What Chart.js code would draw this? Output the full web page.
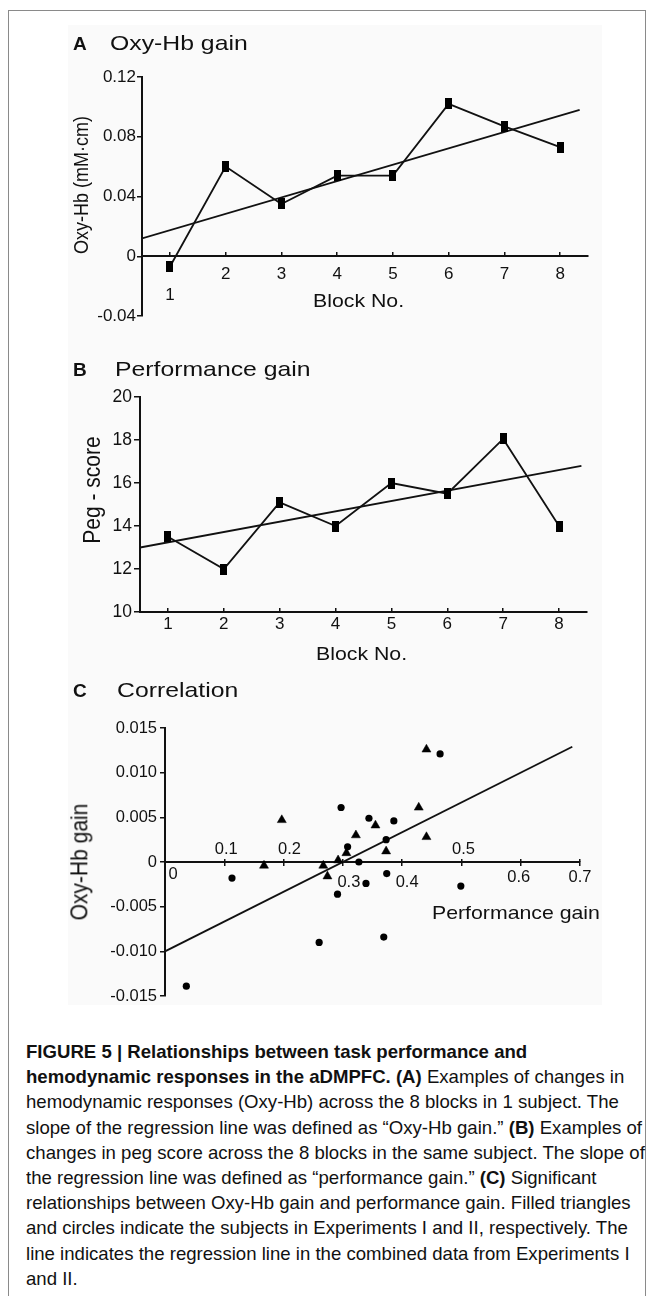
<!DOCTYPE html>
<html>
<head>
<meta charset="utf-8">
<script src="https://cdn.jsdelivr.net/npm/chart.js@4.4.1/dist/chart.umd.min.js"></script>
<style>
  body { margin: 0; width: 653px; height: 1296px; position: relative; overflow: hidden; background: #fff;
         font-family: 'Liberation Sans', Arial, sans-serif; color: #111; }
  #moldura { position: absolute; left: 8px; top: 10px; width: 636px; height: 1300px; border: 1.5px solid #8a8a8a; }
  #fundo { position: absolute; left: 68px; top: 25px; width: 534px; height: 980px; background: #fafafa; }
  canvas { position: absolute; left: 0; }
  .txt { position: absolute; white-space: nowrap; line-height: 1; transform-origin: 0 50%; }
  .tit { font-size: 21px; transform: scaleX(1.18); }
  .rot { position: absolute; white-space: nowrap; line-height: 1; transform: translate(-50%, -50%) rotate(-90deg) scaleY(1.1); }
  .leg { position: absolute; left: 26px; white-space: nowrap; font-size: 19px; line-height: 25.2px; transform-origin: 0 50%; }
</style>
</head>
<body>
<div id="moldura"></div>
<div id="fundo"></div>

<canvas id="graficoA" width="653" height="330" style="top:0"></canvas>
<canvas id="graficoB" width="653" height="330" style="top:330px"></canvas>
<canvas id="graficoC" width="653" height="350" style="top:660px"></canvas>

<!-- títulos dos painéis -->
<div class="txt" style="left:73px;top:34px;font-size:19px;font-weight:bold">A</div>
<div class="txt tit" style="left:110px;top:32px">Oxy-Hb gain</div>
<div class="txt" style="left:73px;top:360px;font-size:19px;font-weight:bold">B</div>
<div class="txt tit" style="left:115px;top:358px">Performance gain</div>
<div class="txt" style="left:73px;top:681px;font-size:19px;font-weight:bold">C</div>
<div class="txt tit" style="left:117px;top:679px">Correlation</div>

<!-- títulos dos eixos -->
<div class="txt" style="left:313px;top:291px;font-size:19px;transform:scaleX(1.12)">Block No.</div>
<div class="rot" style="left:81px;top:185px;font-size:18px">Oxy-Hb (mM·cm)</div>
<div class="txt" style="left:316px;top:644px;font-size:19px;transform:scaleX(1.12)">Block No.</div>
<div class="rot" style="left:92px;top:490px;font-size:21px">Peg - score</div>
<div class="txt" style="left:432px;top:904px;font-size:18.5px;transform:scaleX(1.15)">Performance gain</div>
<div class="rot" style="left:79px;top:862px;font-size:21px">Oxy-Hb gain</div>

<!-- legenda da figura -->
<div id="legenda" style="position:absolute;left:0;top:1039px">
  <div class="leg"><b>FIGURE 5 | Relationships between task performance and</b></div>
  <div class="leg"><b>hemodynamic responses in the aDMPFC. (A)</b> Examples of changes in</div>
  <div class="leg">hemodynamic responses (Oxy-Hb) across the 8 blocks in 1 subject. The</div>
  <div class="leg">slope of the regression line was defined as “Oxy-Hb gain.” <b>(B)</b> Examples of</div>
  <div class="leg">changes in peg score across the 8 blocks in the same subject. The slope of</div>
  <div class="leg">the regression line was defined as “performance gain.” <b>(C)</b> Significant</div>
  <div class="leg">relationships between Oxy-Hb gain and performance gain. Filled triangles</div>
  <div class="leg">and circles indicate the subjects in Experiments I and II, respectively. The</div>
  <div class="leg">line indicates the regression line in the combined data from Experiments I</div>
  <div class="leg">and II.</div>
</div>

<script>
// ---- dados do painel A (Oxy-Hb por bloco) ----
const blocos = [1, 2, 3, 4, 5, 6, 7, 8];
const oxyHb = [-0.007, 0.060, 0.035, 0.054, 0.054, 0.102, 0.087, 0.073];
const oxyHbRegX = [0.5, 8.35];
const oxyHbRegY = [0.012, 0.098];
const oxyHbTicks = [-0.04, 0, 0.04, 0.08, 0.12];

// ---- dados do painel B (peg score por bloco) ----
const pegScore = [13.5, 12.0, 15.1, 14.0, 16.0, 15.5, 18.05, 14.0];
const pegRegX = [0.5, 8.4];
const pegRegY = [13.0, 16.8];
const pegTicks = [10, 12, 14, 16, 18, 20];

// ---- dados do painel C (correlação) ----
// Experimento I (triângulos)
const exp1Ganho = [0.167, 0.197, 0.267, 0.274, 0.292, 0.306, 0.322, 0.355, 0.373, 0.428, 0.441, 0.441];
const exp1Oxy = [-0.0004, 0.0047, -0.0004, -0.0016, 0.0002, 0.0010, 0.0030, 0.0041, 0.0012, 0.0061, 0.0126, 0.0028];
// Experimento II (círculos)
const exp2Ganho = [0.036, 0.113, 0.260, 0.291, 0.297, 0.308, 0.327, 0.339, 0.344, 0.369, 0.373, 0.374, 0.386, 0.464, 0.499];
const exp2Oxy = [-0.0139, -0.0018, -0.0090, -0.0036, 0.0061, 0.0017, 0.0000, -0.0024, 0.0049, -0.0084, 0.0025, -0.0013, 0.0046, 0.0121, -0.0027];
const corrRegX = [0, 0.687];
const corrRegY = [-0.0100, 0.0129];
const corrXTicks = [0, 0.1, 0.2, 0.3, 0.4, 0.5, 0.6, 0.7];
const corrXLabels = ['0', '0.1', '0.2', '0.3', '0.4', '0.5', '0.6', '0.7'];
const corrYTicks = [-0.015, -0.010, -0.005, 0, 0.005, 0.010, 0.015];

Chart.defaults.font.family = "'Liberation Sans', Arial, sans-serif";
Chart.defaults.color = '#111';

const preto = '#111';

// marcador retangular (mais alto que largo)
function marcadorRet(w, h) {
    const c = document.createElement('canvas');
    c.width = w; c.height = h;
    const g = c.getContext('2d');
    g.fillStyle = '#000';
    g.fillRect(0, 0, w, h);
    return c;
}
const ret = marcadorRet(7, 11);

const pontos = (xs, ys) => xs.map((x, i) => ({ x: x, y: ys[i] }));
const fixaTicks = lista => scale => { scale.ticks = lista.map(v => ({ value: v })); };
const semNada = { legend: { display: false }, tooltip: { enabled: false } };

// Painel A
new Chart(document.getElementById('graficoA'), {
    type: 'line',
    data: {
        datasets: [
            { data: pontos(blocos, oxyHb), borderColor: preto, borderWidth: 1.8, pointStyle: ret, pointRadius: 5, tension: 0 },
            { data: pontos(oxyHbRegX, oxyHbRegY), borderColor: preto, borderWidth: 1.8, pointRadius: 0 }
        ]
    },
    options: {
        responsive: false, animation: false,
        layout: { padding: { top: 77, bottom: 14, left: 0, right: 65 } },
        plugins: semNada,
        scales: {
            x: {
                type: 'linear', min: 0.5, max: 8.5, position: { y: 0 },
                afterBuildTicks: fixaTicks(blocos),
                grid: { drawOnChartArea: false, tickLength: -5, color: preto, lineWidth: 1.5 },
                border: { color: preto, width: 2 },
                ticks: { padding: 13, font: { size: 17 }, autoSkip: false, maxRotation: 0,
                         callback: v => v === 1 ? ['', '1'] : String(v) }
            },
            y: {
                min: -0.04, max: 0.12,
                afterBuildTicks: fixaTicks(oxyHbTicks),
                afterFit: s => { s.width = 142; },
                grid: { drawOnChartArea: false, tickLength: 5, color: preto, lineWidth: 1.5 },
                border: { color: preto, width: 2 },
                ticks: { padding: 1, font: { size: 17 },
                         callback: v => Math.abs(v) < 1e-9 ? '0' : v.toFixed(2) }
            }
        }
    }
});

// Painel B
new Chart(document.getElementById('graficoB'), {
    type: 'line',
    data: {
        datasets: [
            { data: pontos(blocos, pegScore), borderColor: preto, borderWidth: 1.8, pointStyle: ret, pointRadius: 5, tension: 0 },
            { data: pontos(pegRegX, pegRegY), borderColor: preto, borderWidth: 1.8, pointRadius: 0 }
        ]
    },
    options: {
        responsive: false, animation: false,
        layout: { padding: { top: 67, bottom: 48, left: 0, right: 66 } },
        plugins: semNada,
        scales: {
            x: {
                type: 'linear', min: 0.5, max: 8.5, position: { y: 10 },
                afterBuildTicks: fixaTicks(blocos),
                grid: { drawOnChartArea: false, tickLength: -5, color: preto, lineWidth: 1.5 },
                border: { color: preto, width: 2 },
                ticks: { padding: 7, font: { size: 17 }, autoSkip: false, maxRotation: 0 }
            },
            y: {
                min: 10, max: 20,
                afterBuildTicks: fixaTicks(pegTicks),
                afterFit: s => { s.width = 140; },
                grid: { drawOnChartArea: false, tickLength: 6, color: preto, lineWidth: 1.5 },
                border: { color: preto, width: 2 },
                ticks: { padding: 2, font: { size: 17.5 } }
            }
        }
    }
});

// rótulos do eixo x do painel C (alguns acima, outros abaixo do eixo)
const rotulosC = {
    id: 'rotulosC',
    afterDraw(chart, args, opts) {
        const sx = chart.scales.x, sy = chart.scales.y;
        const ctx = chart.ctx;
        ctx.save();
        ctx.font = "16.5px 'Liberation Sans', Arial, sans-serif";
        ctx.fillStyle = preto;
        ctx.textAlign = 'center';
        ctx.textBaseline = 'middle';
        corrXTicks.forEach((v, i) => {
            const d = opts.desloc[i];
            ctx.fillText(corrXLabels[i], sx.getPixelForValue(v) + d[0], sy.getPixelForValue(0) + d[1]);
        });
        ctx.restore();
    }
};

// Painel C
new Chart(document.getElementById('graficoC'), {
    type: 'scatter',
    data: {
        datasets: [
            { data: pontos(exp1Ganho, exp1Oxy), pointStyle: 'triangle', pointRadius: 5.2, backgroundColor: '#000', borderColor: '#000', borderWidth: 0.5 },
            { data: pontos(exp2Ganho, exp2Oxy), pointStyle: 'circle', pointRadius: 3.6, backgroundColor: '#000', borderColor: '#000', borderWidth: 0 },
            { data: pontos(corrRegX, corrRegY), showLine: true, borderColor: preto, borderWidth: 1.8, pointRadius: 0 }
        ]
    },
    plugins: [rotulosC],
    options: {
        responsive: false, animation: false,
        layout: { padding: { top: 68, bottom: 14, left: 0, right: 73 } },
        plugins: {
            legend: { display: false }, tooltip: { enabled: false },
            rotulosC: { desloc: [[8, 12], [2, -13], [6, -13], [6, 20], [5, 20], [2, -13], [-2, 15], [0, 15]] }
        },
        scales: {
            x: {
                type: 'linear', min: 0, max: 0.7, position: { y: 0 },
                afterBuildTicks: fixaTicks(corrXTicks),
                grid: { drawOnChartArea: false, tickLength: 3, color: preto, lineWidth: 1.5 },
                border: { color: preto, width: 2 },
                ticks: { display: false }
            },
            x2: {
                type: 'linear', min: 0, max: 0.7, position: { y: 0 },
                afterBuildTicks: fixaTicks(corrXTicks),
                grid: { drawOnChartArea: false, tickLength: -3, color: preto, lineWidth: 1.5 },
                border: { display: false },
                ticks: { display: false }
            },
            y: {
                min: -0.015, max: 0.015,
                afterBuildTicks: fixaTicks(corrYTicks),
                afterFit: s => { s.width = 165; },
                grid: { drawOnChartArea: false, tickLength: 5, color: preto, lineWidth: 1.5 },
                border: { color: preto, width: 2 },
                ticks: { padding: 3, font: { size: 16.5 },
                         callback: v => Math.abs(v) < 1e-9 ? '0' : v.toFixed(3) }
            }
        }
    }
});

// ajusta a largura de cada linha da legenda (fonte condensada no original)
const linhas = document.querySelectorAll('.leg');
const larguraRef = linhas[3].getBoundingClientRect().width;
const fator = 616 / larguraRef;
linhas.forEach(l => { l.style.position = 'relative'; l.style.display = 'block'; l.style.width = 'max-content'; l.style.transform = 'scaleX(' + fator + ')'; });
</script>
</body>
</html>
